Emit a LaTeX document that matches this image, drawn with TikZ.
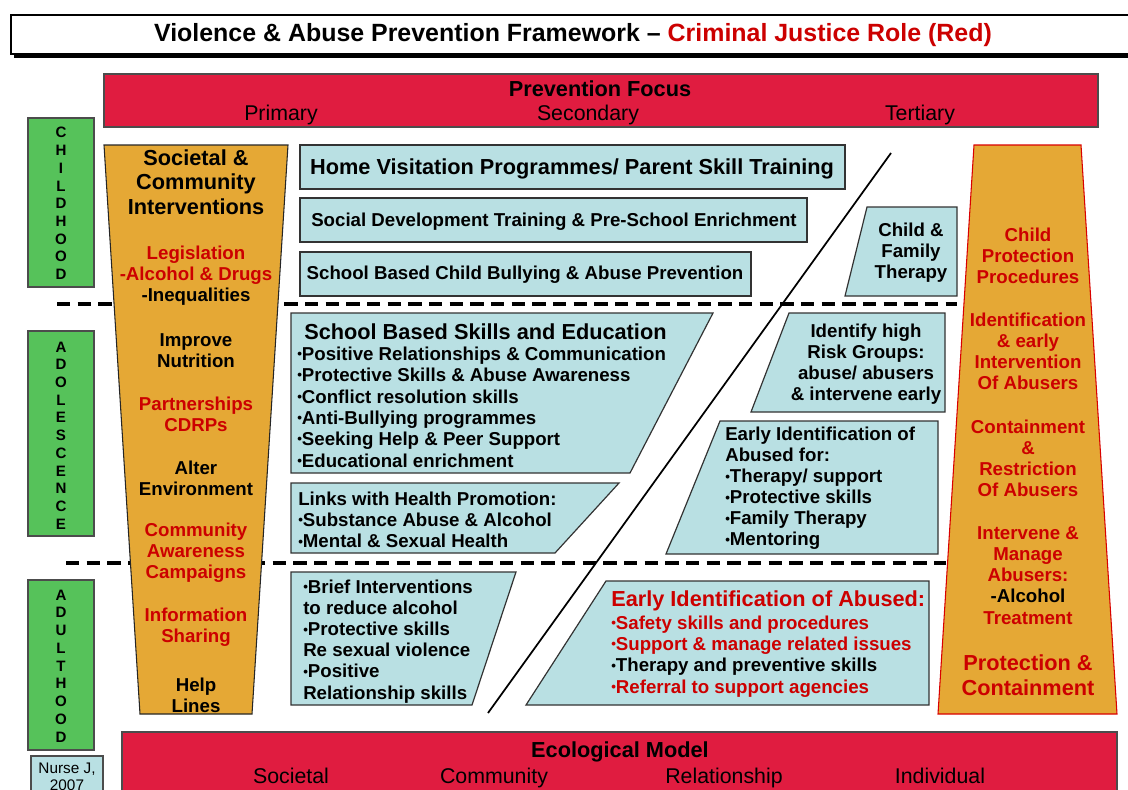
\documentclass[tikz,border=0pt]{standalone}
\usepackage{fontspec}
\setmainfont{Liberation Sans}
\usepackage{xcolor}
\usepackage{tikz}
\usetikzlibrary{positioning}

\definecolor{focusred}{RGB}{224,28,64}
\definecolor{txtred}{RGB}{204,0,0}
\definecolor{gold}{RGB}{229,168,53}
\definecolor{agegreen}{RGB}{86,194,90}
\definecolor{paleblue}{RGB}{185,224,227}

\newcommand{\bul}{{\fontsize{10}{10}\selectfont\raisebox{1.3pt}{•}}}

\tikzset{
  bar/.style={fill=focusred, draw=black!70, line width=0.8pt},
  agebox/.style={fill=agegreen, draw=black!70, line width=0.8pt},
  bluebox/.style={fill=paleblue, draw=black!80, line width=0.9pt},
  goldbox/.style={fill=gold, line width=0.8pt},
  body/.style={inner sep=0pt, align=center, font=\bfseries\fontsize{14}{15.8}\selectfont},
  bodyl/.style={body, align=left, anchor=west},
  heading/.style={inner sep=0pt, align=center, font=\bfseries\fontsize{16.3}{18.4}\selectfont},
  level/.style={inner sep=0pt, anchor=base, font=\fontsize{16}{18}\selectfont},
  letters/.style={inner sep=0pt, align=center, font=\bfseries\fontsize{11.3}{13.3}\selectfont},
  divider/.style={line width=2.4pt, dash pattern=on 10pt off 5.5pt},
}

\begin{document}
\begin{tikzpicture}[x=0.75pt, y=-0.75pt]
\useasboundingbox (0,0) rectangle (1128,789);
% title
\fill[black] (14,18) rectangle (1140,58);
\draw[fill=white, line width=1pt] (11,15) rectangle (1136,54);
\node (title) at (573,35.5) [inner sep=0pt, font=\bfseries\fontsize{18.7}{20}\selectfont]
  {Violence \& Abuse Prevention Framework – \textcolor{txtred}{Criminal Justice Role (Red)}};
% prevention focus
\draw[bar] (104,74) rectangle (1098,127);
\node (focus) at (600,89) [heading] {Prevention Focus};
\node (primary) at (281,120.5) [level] {Primary};
\node (secondary) at (588,120.5) [level] {Secondary};
\node (tertiary) at (920,120.5) [level] {Tertiary};
% life stages
\draw[agebox] (28,118) rectangle (94,287);
\node (childhood) at (61,203.5) [letters] {C\\H\\I\\L\\D\\H\\O\\O\\D};
\draw[agebox] (28,331) rectangle (94,536);
\node (adolescence) at (61,435.5) [letters] {A\\D\\O\\L\\E\\S\\C\\E\\N\\C\\E};
\draw[agebox] (28,580) rectangle (94,750);
\node (adulthood) at (61,666) [letters] {A\\D\\U\\L\\T\\H\\O\\O\\D};
\draw[fill=paleblue, draw=black!70, line width=0.8pt] (31,756) rectangle (103,800);
\node (ref) at (67,776.5) [inner sep=0pt, align=center, font=\fontsize{11.5}{12.75}\selectfont] {Nurse J,\\2007};
% dividers
\draw[divider] (57,304) -- (957,304);
\draw[divider] (66,563) -- (946,563);
% societal column
\draw[goldbox, draw=black!85] (104,145) -- (288,145) -- (252,714) -- (140,714) -- cycle;
\node (societal) at (196,182) [heading] {Societal \&\\Community\\Interventions};
\node (legislation) at (196,276) [body, text=txtred] {Legislation\\-Alcohol \& Drugs\\\textcolor{black}{-Inequalities}};
\node (nutrition) at (196,350.5) [body] {Improve\\Nutrition};
\node (partners) at (196,414) [body, text=txtred] {Partnerships\\CDRPs};
\node (environment) at (196,478.5) [body] {Alter\\Environment};
\node (campaigns) at (196,553) [body, text=txtred] {Community\\Awareness\\Campaigns};
\node (sharing) at (196,627.5) [body, text=txtred] {Information\\Sharing};
\node (helplines) at (196,695.5) [body] {Help\\Lines};
% protection column
\draw[goldbox, draw=red!85!black] (974,145) -- (1081,145) -- (1117,714) -- (938,714) -- cycle;
\node (procedures) at (1028,256) [body, text=txtred] {Child\\Protection\\Procedures};
\node (earlyabusers) at (1028,351.5) [body, text=txtred] {Identification\\\& early\\Intervention\\Of Abusers};
\node (restriction) at (1028,458.5) [body, text=txtred] {Containment\\\&\\Restriction\\Of Abusers};
\node (manage) at (1028,575.5) [body, text=txtred] {Intervene \&\\Manage\\Abusers:\\\textcolor{black}{-Alcohol}\\Treatment};
\node (containment) at (1028,675) [heading, text=txtred, font=\bfseries\fontsize{16.3}{18.8}\selectfont] {Protection \&\\Containment};
% childhood programmes
\draw[bluebox] (300,145) rectangle (845,189);
\node (homevisit) at (572,168.5) [heading] {Home Visitation Programmes/ Parent Skill Training};
\draw[bluebox] (300,198) rectangle (807,242);
\node (socialdev) at (554,221.5) [body] {Social Development Training \& Pre-School Enrichment};
\draw[bluebox] (300,252) rectangle (751,296);
\node (bullying) at (525,274.5) [body] {School Based Child Bullying \& Abuse Prevention};
\draw[bluebox] (867,207) -- (957,207) -- (957,296) -- (845,296) -- cycle;
\node (familytherapy) at (911,252.5) [body] {Child \&\\Family\\Therapy};
% adolescence programmes
\draw[bluebox] (291,313) -- (713,313) -- (630,473) -- (291,473) -- cycle;
\node (skillsHead) at (304,332) [heading, anchor=west] {School Based Skills and Education};
\node (skillsList) at (297,407) [bodyl, font=\bfseries\fontsize{14}{16}\selectfont]
  {\bul Positive Relationships \& Communication\\\bul Protective Skills \& Abuse Awareness\\\bul Conflict resolution skills\\\bul Anti-Bullying programmes\\\bul Seeking Help \& Peer Support\\\bul Educational enrichment};
\draw[bluebox] (291,483) -- (619,483) -- (555,553) -- (291,553) -- cycle;
\node (health) at (298,520) [bodyl] {Links with Health Promotion:\\\bul Substance Abuse \& Alcohol\\\bul Mental \& Sexual Health};
\draw[bluebox] (789,313) -- (945,313) -- (945,412) -- (751,412) -- cycle;
\node (riskgroups) at (866,364) [body] {Identify high\\Risk Groups:\\abuse/ abusers\\\& intervene early};
\draw[bluebox] (720,421) -- (938,421) -- (938,554) -- (666,554) -- cycle;
\node (abusedfor) at (725,488.5) [bodyl] {Early Identification of\\Abused for:\\\bul Therapy/ support\\\bul Protective skills\\\bul Family Therapy\\\bul Mentoring};
% adulthood programmes
\draw[bluebox] (291,572) -- (516,572) -- (472,705) -- (291,705) -- cycle;
\node (brief) at (303,641.5) [bodyl] {\bul Brief Interventions\\to reduce alcohol\\\bul Protective skills\\Re sexual violence\\\bul Positive\\Relationship skills};
\draw[bluebox] (606,581) -- (929,581) -- (929,705) -- (526,705) -- cycle;
\node (abusedHead) at (611,601) [heading, anchor=west, text=txtred] {Early Identification of Abused:};
\node (abusedList) at (611,656.5) [bodyl, text=txtred, font=\bfseries\fontsize{14}{16}\selectfont]
  {\bul Safety skills and procedures\\\bul Support \& manage related issues\\\textcolor{black}{\bul Therapy and preventive skills}\\\bul Referral to support agencies};
% secondary / tertiary split
\coordinate (splitTop) at (891,153);
\coordinate (splitBottom) at (488,713);
\draw[line width=1.3pt] (splitTop) -- (splitBottom);
% ecological model
\draw[bar] (122,732) rectangle (1117,800);
\node (ecology) at (620,752) [heading] {Ecological Model};
\node (societalLvl) at (291,783.5) [level] {Societal};
\node (communityLvl) at (494,783.5) [level] {Community};
\node (relationshipLvl) at (724,783.5) [level] {Relationship};
\node (individualLvl) at (940,783.5) [level] {Individual};
\end{tikzpicture}
\end{document}
